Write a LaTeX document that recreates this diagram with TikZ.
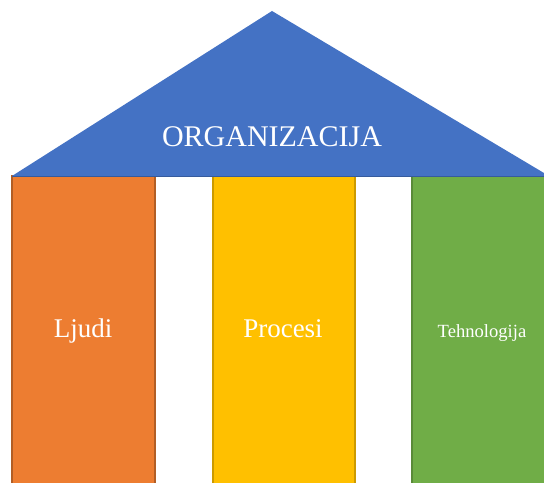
\documentclass[tikz,border=0pt]{standalone}
\usepackage{fontspec}
\setmainfont{Liberation Serif}
\usepackage{tkz-euclide}

\definecolor{roofblue}{HTML}{4472C4}
\definecolor{pilorange}{HTML}{ED7D31}
\definecolor{pilyellow}{HTML}{FFC000}
\definecolor{pilgreen}{HTML}{70AD47}

\tikzset{
  pillar/.style={line width=0.6pt},
  label/.style={text=white, anchor=base}
}

\begin{document}
\begin{tikzpicture}[x=0.5pt,y=0.5pt]
\useasboundingbox (0,0) rectangle (544,482);
\clip (0,0) rectangle (544,482);
\tkzDefPoints{272/471/T, 12/306/L, 549/306/R}

% pillars
\filldraw[pillar, fill=pilorange, draw=pilorange!75!black] (12,-5) rectangle (155,306);
\filldraw[pillar, fill=pilyellow, draw=pilyellow!80!black] (213,-5) rectangle (355,306);
\filldraw[pillar, fill=pilgreen, draw=pilgreen!80!black] (412,-5) rectangle (560,306);

% roof
\fill[roofblue] (T) -- (L) -- (R) -- cycle;
\draw[roofblue!80!black, line width=0.4pt] (L) -- (R);

\node[label, font=\fontsize{15}{18}\selectfont] (org) at (272,335) {ORGANIZACIJA};
\node[label, font=\fontsize{13.5}{16}\selectfont] (ljudi) at (83,145) {Ljudi};
\node[label, font=\fontsize{13.5}{16}\selectfont] (procesi) at (283,145) {Procesi};
\node[label, font=\fontsize{9.3}{11}\selectfont] (tehno) at (482,145) {Tehnologija};
\end{tikzpicture}
\end{document}
